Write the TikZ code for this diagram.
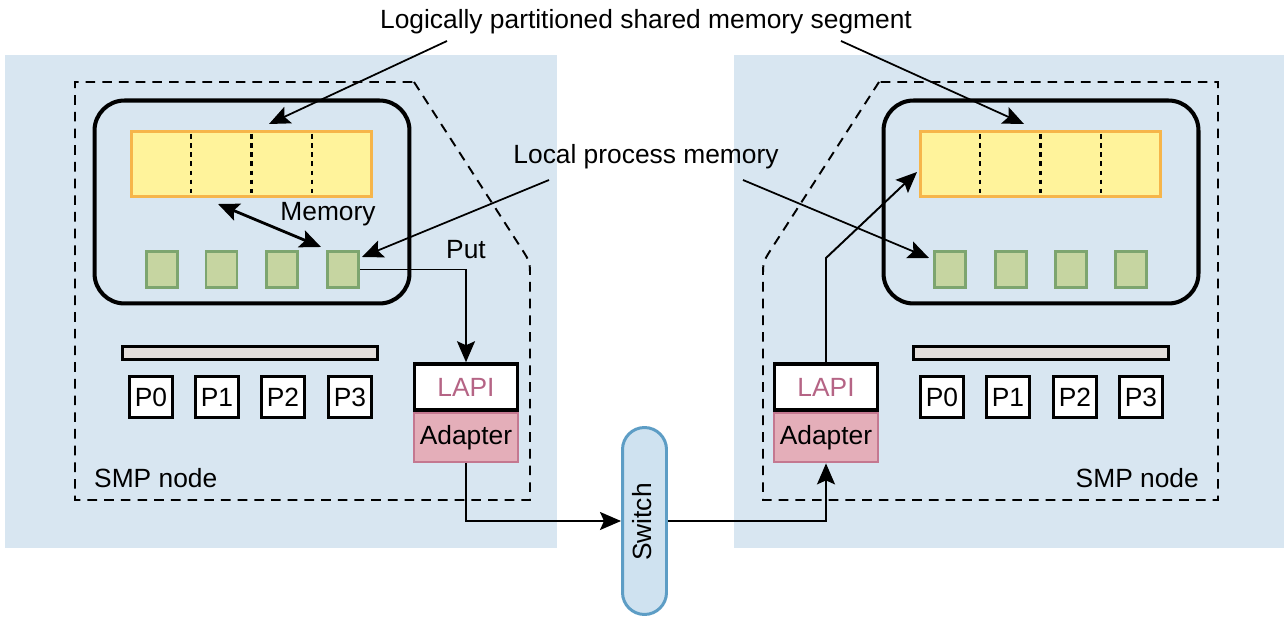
\documentclass[tikz,border=0pt]{standalone}
\usepackage{fontspec}
\setmainfont{Liberation Sans}
\usetikzlibrary{arrows.meta,calc}
\definecolor{panel}{HTML}{D8E6F1}
\definecolor{segfill}{HTML}{FFF39B}
\definecolor{segborder}{HTML}{F6B54A}
\definecolor{grfill}{HTML}{C6D5A1}
\definecolor{grborder}{HTML}{7DA56F}
\definecolor{barfill}{HTML}{E2DDDA}
\definecolor{adfill}{HTML}{E4AEB9}
\definecolor{adborder}{HTML}{C47890}
\definecolor{lapitext}{HTML}{B56485}
\definecolor{swfill}{HTML}{CFE2F0}
\definecolor{swborder}{HTML}{5D9DC5}
\begin{document}
\begin{tikzpicture}[x=0.02cm,y=-0.02cm,
  font=\fontsize{15}{18}\selectfont,
  >={Stealth[length=0.42cm,width=0.36cm,inset=0.08cm]},
  outline/.style={dash pattern=on 5.5pt off 4pt, line width=1.1pt},
  divider/.style={dash pattern=on 2.6pt off 2.6pt, line width=1.2pt},
  membox/.style={draw, line width=2.3pt, rounded corners=0.6cm, minimum width=6.3cm, minimum height=4.06cm},
  segbox/.style={draw=segborder, fill=segfill, line width=1.6pt, minimum width=4.8cm, minimum height=1.3cm},
  procmem/.style={draw=grborder, fill=grfill, line width=1.7pt, minimum width=0.62cm, minimum height=0.72cm},
  busbar/.style={draw, fill=barfill, line width=2pt, minimum width=5.1cm, minimum height=0.26cm},
  cpu/.style={draw, fill=white, line width=2pt, minimum width=0.86cm, minimum height=0.82cm, inner sep=0pt},
  lapibox/.style={draw, fill=white, line width=2pt, minimum width=2.06cm, minimum height=0.92cm, text=lapitext},
  adapterbox/.style={draw=adborder, fill=adfill, line width=1.6pt, minimum width=2.06cm, minimum height=0.98cm},
  switchbox/.style={draw=swborder, fill=swfill, line width=1.7pt, minimum width=0.88cm, minimum height=3.74cm, rounded corners=0.44cm},
  arr/.style={->, line width=1.1pt},
  thinarr/.style={->, line width=1pt},
  dblarr/.style={<->, line width=1.6pt}
]
\useasboundingbox (0,0) rectangle (1284,617);
% panels
\fill[panel] (5,55) rectangle (557,548);
\fill[panel] (734,55) rectangle (1284,548);
% dashed SMP outlines
\draw[outline] (414,82) -- (522,249.4) .. controls (530,262) .. (530,277) -- (530,500) -- (75,500) -- (75,82) -- cycle;
\draw[outline] (879,82) -- (771,249.4) .. controls (763,262) .. (763,277) -- (763,500) -- (1218,500) -- (1218,82) -- cycle;

% ---------- left node ----------
\node[membox] (memL) at (252,202) {};
\node[segbox] (segL) at (251.5,164) {};
\foreach \x in {190.75,251.5,312.25} \draw[divider] (\x,134) -- (\x,196);
\node[procmem] (gL1) at (162,269.5) {};
\node[procmem] (gL2) at (221.5,269.5) {};
\node[procmem] (gL3) at (282,269.5) {};
\node[procmem] (gL4) at (343,269.5) {};
\node[busbar] (barL) at (250,353) {};
\node[cpu] (pL0) at (151,397) {P0};
\node[cpu] (pL1) at (217,397) {P1};
\node[cpu] (pL2) at (283,397) {P2};
\node[cpu] (pL3) at (350,397) {P3};
\node[adapterbox] (adL) at (466,437.5) {Adapter};
\node[lapibox] (lapiL) at (466,387) {LAPI};
\node[anchor=west] (smpL) at (88,478) {SMP node};

% ---------- right node ----------
\node[membox] (memR) at (1041,202) {};
\node[segbox] (segR) at (1040.5,164) {};
\foreach \x in {979.75,1040.5,1101.25} \draw[divider] (\x,134) -- (\x,196);
\node[procmem] (gR1) at (950,269.5) {};
\node[procmem] (gR2) at (1010.5,269.5) {};
\node[procmem] (gR3) at (1071,269.5) {};
\node[procmem] (gR4) at (1131,269.5) {};
\node[busbar] (barR) at (1041,353) {};
\node[cpu] (pR0) at (942,397) {P0};
\node[cpu] (pR1) at (1008,397) {P1};
\node[cpu] (pR2) at (1075,397) {P2};
\node[cpu] (pR3) at (1141,397) {P3};
\node[adapterbox] (adR) at (826,437.5) {Adapter};
\node[lapibox] (lapiR) at (826,387) {LAPI};
\node[anchor=east] (smpR) at (1205,478) {SMP node};

% switch
\node[switchbox] (sw) at (644.5,521) {};
\node[rotate=90] (swlabel) at (642,522) {Switch};

% labels
\node (title) at (646,22) {Logically partitioned shared memory segment};
\node (lpm) at (646,157) {Local process memory};
\node (memlabel) at (328,214) {Memory};
\node (putlabel) at (466,250) {Put};

% connector coordinates
\coordinate (tA) at (447,41);
\coordinate (tAe) at (269,124);
\coordinate (tB) at (841,41);
\coordinate (tBe) at (1024,124);
\coordinate (lA) at (549,180);
\coordinate (lAe) at (362,257);
\coordinate (lB) at (743,180);
\coordinate (lBe) at (929,258);
\coordinate (mA) at (218,204);
\coordinate (mB) at (321,247);
\coordinate (kneeR) at (826,258);
\coordinate (segRin) at (917,172);

% connectors
\draw[thinarr] (tA) -- (tAe);
\draw[thinarr] (tB) -- (tBe);
\draw[thinarr] (lA) -- (lAe);
\draw[thinarr] (lB) -- (lBe);
\draw[dblarr] (mA) -- (mB);
\draw[arr] (gL4.east) -| (lapiL.north);
\draw[arr] (adL.south) |- (sw.west);
\draw[arr] (sw.east) -| (adR.south);
\draw[arr] (lapiR.north) -- (kneeR) -- (segRin);
\end{tikzpicture}
\end{document}
